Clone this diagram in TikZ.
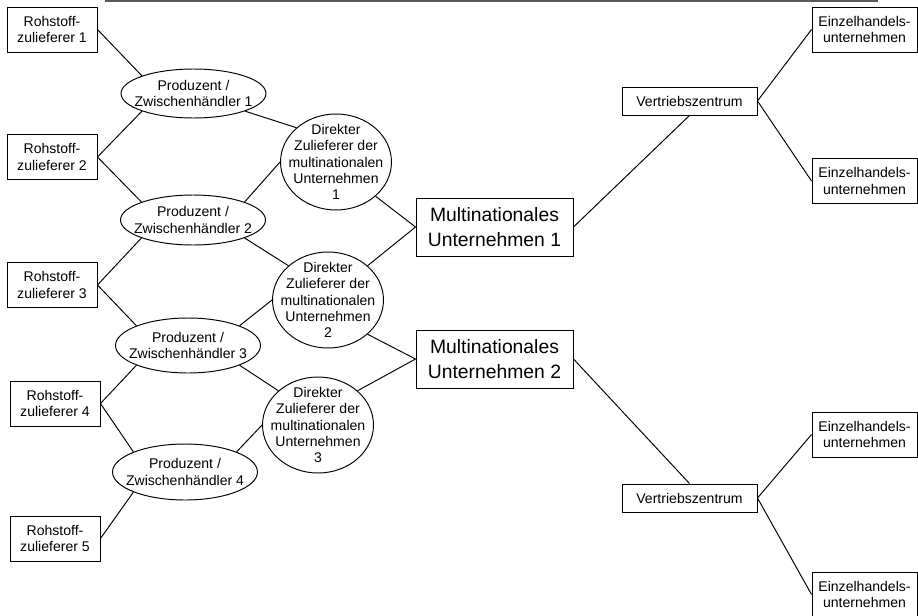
\documentclass[tikz,border=0pt]{standalone}
\usepackage{fontspec}
\setmainfont{Liberation Sans}
\usepackage{tikz}
\usetikzlibrary{shapes.geometric,positioning}
\tikzset{
  smalltext/.style={font=\fontsize{8}{9.6}\selectfont, align=center, inner sep=0pt},
  rohbox/.style={smalltext, draw, minimum width=1.8cm, minimum height=0.9cm},
  prodell/.style={draw, ellipse, inner sep=0pt, minimum width=2.9cm, minimum height=1.0cm},
  dirkreis/.style={draw, ellipse, inner sep=0pt, minimum width=2.22cm, minimum height=1.92cm},
  dirtext/.style={align=center, inner sep=0pt, font=\fontsize{8}{9.3}\selectfont},
  mnubox/.style={draw, align=center, inner sep=0pt, font=\fontsize{11}{14.2}\selectfont, minimum width=3.14cm, minimum height=1.16cm},
  vzbox/.style={smalltext, draw, minimum width=2.7cm, minimum height=0.56cm},
  ehbox/.style={smalltext, draw, minimum width=2.1cm, minimum height=0.9cm},
}
\begin{document}
\begin{tikzpicture}[x=0.02cm, y=-0.02cm, line width=0.55pt]
  \useasboundingbox (0,0) rectangle (918,615);
  \draw[gray!70!black, line width=1pt] (105,0.8) -- (878,0.8);
  % Rohstoffzulieferer
  \foreach \i/\px/\py in {1/52/29.5, 2/52/157, 3/52/285, 4/55/403.5, 5/55/538.5}
    \node[rohbox] (roh\i) at (\px,\py) {Rohstoff-\\zulieferer \i};
  % Produzenten / Zwischenhaendler
  \foreach \i/\px/\py/\h in {1/193.5/93.5/0.98, 2/193/220/1.0, 3/188/345.5/1.1, 4/185/472/1.12}
    \node[prodell, minimum height=\h cm,
      label={[smalltext]center:Produzent /\\Zwischenh\"andler \i}] (prod\i) at (\px,\py) {};
  % direkte Zulieferer
  \foreach \i/\px/\py in {1/336/162, 2/328/300, 3/318/425}
    \node[dirkreis,
      label={[dirtext]center:Direkter\\Zulieferer der\\multinationalen\\Unternehmen\\\i}] (dir\i) at (\px,\py) {};
  \node[mnubox] (mnu1) at (494.5,227) {Multinationales\\Unternehmen 1};
  \node[mnubox] (mnu2) at (494.5,359) {Multinationales\\Unternehmen 2};
  \node[vzbox] (vz1) at (689.5,101) {Vertriebszentrum};
  \node[vzbox] (vz2) at (689.5,498) {Vertriebszentrum};
  \foreach \i/\py in {1/29.5, 2/181, 3/434.5, 4/594.5}
    \node[ehbox] (eh\i) at (864.5,\py) {Einzelhandels-\\unternehmen};
  % Verbindungen
  \foreach \i/\j in {1/1, 2/2, 3/3, 4/4}
    \draw (roh\i.east) -- (prod\j.north west);
  \foreach \i/\j in {2/1, 3/2, 4/3, 5/4}
    \draw (roh\i.east) -- (prod\j.south west);
  \foreach \i in {1,2,3}
    \draw (prod\i.south east) -- (dir\i.north west);
  \foreach \i/\j in {2/1, 3/2, 4/3}
    \draw (prod\i.north east) -- (dir\j.west);
  \draw (dir1.south east) -- (mnu1.west);
  \draw (dir2.north east) -- (mnu1.west);
  \draw (dir2.south east) -- (mnu2.west);
  \draw (dir3.north east) -- (mnu2.west);
  \draw (mnu1.east) -- (vz1.south);
  \draw (mnu2.east) -- (vz2.north);
  \draw (eh1.west) -- (vz1.east) -- (eh2.west);
  \draw (eh3.west) -- (vz2.east) -- (eh4.west);
\end{tikzpicture}
\end{document}
